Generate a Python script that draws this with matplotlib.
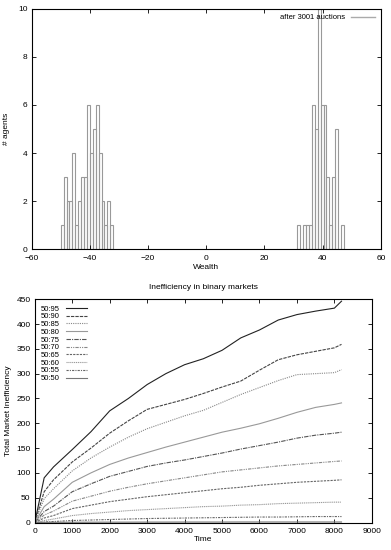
import numpy as np
import matplotlib
matplotlib.use("Agg")
import matplotlib.pyplot as plt

plt.rcParams['font.family'] = ['Liberation Sans', 'DejaVu Sans']

# --- histogram data (wealth bins of width 1, left edge) ---
left_edges = [-50, -49, -48, -47, -46, -45, -44, -43, -42, -41,
              -40, -39, -38, -37, -36, -35, -34, -33]
left_counts = [1, 3, 2, 2, 4, 1, 2, 3, 3, 6, 4, 5, 6, 4, 2, 1, 2, 1]
right_edges = [31.3, 32.3, 33.3, 34.3, 35.3, 36.3, 37.3, 38.3,
               39.3, 40.3, 41.3, 42.3, 43.3, 44.3, 45.3, 46.3]
right_counts = [1, 0, 1, 1, 1, 6, 5, 10, 6, 6, 3, 1, 3, 5, 0, 1]

# --- inefficiency curves ---
time = [0, 250, 500, 1000, 1500, 2000, 2500, 3000, 3500, 4000,
        4500, 5000, 5500, 6000, 6500, 7000, 7500, 8000, 8190]
ineff = {
    "50:95": [0, 90, 112, 147, 183, 225, 250, 278, 300, 318, 330, 347, 372, 388, 408, 419, 426, 432, 446],
    "50:90": [0, 62, 86, 122, 150, 180, 205, 228, 238, 248, 260, 273, 285, 307, 328, 338, 345, 352, 359],
    "50:85": [0, 48, 68, 104, 130, 152, 172, 189, 202, 215, 226, 242, 258, 272, 286, 298, 300, 302, 308],
    "50:80": [0, 32, 47, 81, 100, 117, 130, 141, 152, 162, 172, 182, 190, 199, 210, 222, 232, 238, 241],
    "50:75": [0, 22, 33, 62, 78, 93, 103, 113, 120, 126, 133, 140, 148, 155, 162, 170, 176, 180, 182],
    "50:70": [0, 15, 23, 43, 53, 63, 71, 78, 84, 90, 96, 102, 106, 110, 114, 117, 120, 123, 124],
    "50:65": [0, 9, 14, 28, 35, 42, 47, 52, 56, 60, 64, 68, 71, 75, 78, 81, 83, 85, 86],
    "50:60": [0, 4, 7, 14, 18, 21, 24, 26, 28, 30, 32, 33, 35, 36, 38, 39, 40, 41, 41],
    "50:55": [0, 1, 2, 4, 5, 6, 7, 8, 8.5, 9, 9.5, 10, 10.5, 11, 11, 11.5, 12, 12, 12],
    "50:50": [0, 0.3, 0.4, 0.5, 0.6, 0.7, 0.7, 0.8, 0.8, 0.9, 0.9, 0.9, 1, 1, 1, 1, 1, 1, 1],
}
styles = {
    "50:95": ("#222222", "-"),
    "50:90": ("#444444", (0, (3, 1))),
    "50:85": ("#888888", (0, (1, 1))),
    "50:80": ("#999999", "-"),
    "50:75": ("#555555", (0, (4, 1, 1, 1))),
    "50:70": ("#888888", (0, (3, 1, 1, 1, 1, 1))),
    "50:65": ("#666666", (0, (2, 1))),
    "50:60": ("#999999", (0, (1, 0.7))),
    "50:55": ("#666666", (0, (2, 1, 1, 1))),
    "50:50": ("#777777", "-"),
}

fig = plt.figure(figsize=(3.91, 5.5), dpi=100)

# top panel: wealth histogram
ax1 = fig.add_axes([0.081, 0.547, 0.893, 0.437])
bars = ax1.bar(left_edges + right_edges, left_counts + right_counts, width=1.0,
               align='edge', fill=False, edgecolor='#999999', linewidth=0.8)
ax1.plot([], [], color='#aaaaaa', linewidth=1, label='after 3001 auctions')
ax1.set_xlim(-60, 60)
ax1.set_ylim(0, 10)
ax1.set_xticks(range(-60, 61, 20))
ax1.set_yticks(range(0, 11, 2))
ax1.set_xlabel("Wealth", fontsize=6, labelpad=2)
ax1.set_ylabel("# agents", fontsize=6, labelpad=6)
leg = ax1.legend(loc='upper right', frameon=False, fontsize=5.5, markerfirst=False,
                 handlelength=3.2, borderaxespad=0.3)

# bottom panel: inefficiency
ax2 = fig.add_axes([0.089, 0.050, 0.862, 0.406])
for name in ineff:
    c, ls = styles[name]
    ax2.plot(time, ineff[name], color=c, linestyle=ls, linewidth=0.8, label=name)
ax2.set_xlim(0, 9000)
ax2.set_ylim(0, 450)
ax2.set_xticks(range(0, 9001, 1000))
ax2.set_yticks(range(0, 451, 50))
ax2.set_xlabel("Time", fontsize=6, labelpad=1)
ax2.set_ylabel("Total Market Inefficiency", fontsize=6, labelpad=3)
ax2.set_title("Inefficiency in binary markets", fontsize=6, pad=7)
ax2.legend(loc='upper left', frameon=False, fontsize=5.5, markerfirst=False,
           handlelength=2.8, labelspacing=0.05, borderaxespad=0.4, handletextpad=0.8)

for ax in (ax1, ax2):
    ax.tick_params(direction='in', length=3, width=0.6, labelsize=6,
                   top=True, right=True)
    ax.tick_params(axis='x', pad=4)
    ax.tick_params(axis='y', pad=3)
    for s in ax.spines.values():
        s.set_linewidth(0.8)

fig.savefig("out.png", dpi=100)
